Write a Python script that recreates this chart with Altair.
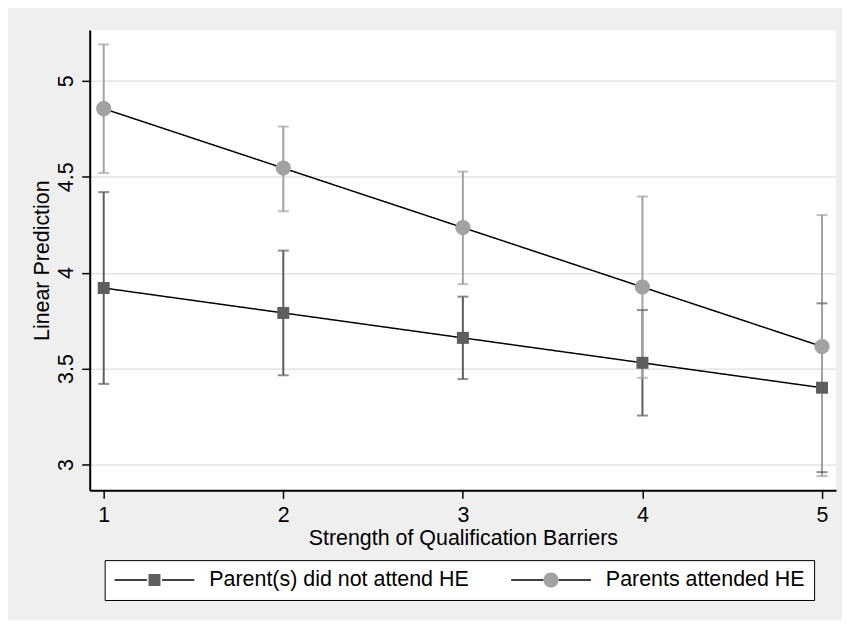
import altair as alt
import pandas as pd

barriers = [1, 2, 3, 4, 5]
groups = ["Parent(s) did not attend HE", "Parents attended HE"]

pred_not = [3.92, 3.79, 3.66, 3.53, 3.40]
lo_not = [3.42, 3.465, 3.445, 3.255, 2.96]
hi_not = [4.42, 4.115, 3.875, 3.805, 3.84]

pred_att = [4.855, 4.545, 4.235, 3.925, 3.615]
lo_att = [4.52, 4.32, 3.94, 3.452, 2.94]
hi_att = [5.19, 4.762, 4.527, 4.397, 4.30]

y_ticks = [3, 3.5, 4, 4.5, 5]
x_ticks = [1, 2, 3, 4, 5]

rows = []
for g, p, lo, hi in [(groups[0], pred_not, lo_not, hi_not), (groups[1], pred_att, lo_att, hi_att)]:
    for i, x in enumerate(barriers):
        rows.append({"x": x, "group": g, "series": g, "bar": g,
                     "pred": p[i], "lo": lo[i], "hi": hi[i]})
df = pd.DataFrame(rows)

FONT = "Liberation Sans"
FS = 21.5
DARK = "#5e5e5e"
LIGHT = "#a2a2a2"

sq_path = "M-0.15,-0.15H0.15V0.15H-0.15Z"
circ_path = "M0.19,0A0.19,0.19,0,1,1,-0.19,0A0.19,0.19,0,1,1,0.19,0Z"
gap_line = "M-1,0H-0.19M0.19,0H1"

x_scale = alt.Scale(domain=[0.922, 5.078], nice=False, zero=False)
y_scale = alt.Scale(domain=[2.865, 5.265], nice=False, zero=False)

x_axis = alt.Axis(values=x_ticks, format="d", tickSize=8, tickWidth=1.5, tickColor="black",
                  domainColor="black", domainWidth=2, grid=False, labelAngle=0,
                  labelFont=FONT, labelFontSize=FS, labelColor="black", labelPadding=6,
                  title="Strength of Qualification Barriers", titleFont=FONT, titleFontSize=FS,
                  titleFontWeight="normal", titleColor="black", titleBaseline="alphabetic",
                  titleY=54)
y_axis = alt.Axis(values=y_ticks, format="~g", tickSize=8, tickWidth=1.5, tickColor="black",
                  domainColor="black", domainWidth=2, grid=True, gridColor="#e4e4e4", gridWidth=1.5,
                  labelAngle=270, labelAlign="center", labelBaseline="alphabetic", labelPadding=9,
                  labelFont=FONT, labelFontSize=FS, labelColor="black",
                  title="Linear Prediction", titleFont=FONT, titleFontSize=FS,
                  titleFontWeight="normal", titleColor="black", titleAngle=270,
                  titleAlign="center", titleBaseline="alphabetic", titleX=-41, titleY=231)

X = alt.X("x:Q", scale=x_scale, axis=x_axis)
Xn = alt.X("x:Q", scale=x_scale)

common = dict(title=None, orient="none", legendX=15, legendY=532, direction="horizontal",
              labelFont=FONT, labelFontSize=FS, labelColor="black", labelOffset=14, labelLimit=0,
              symbolSize=6400, symbolStrokeWidth=1.5, columnPadding=41, padding=9, clipHeight=22)

# bottom legend: box + markers (labels hidden, used only for layout)
marker_legend = alt.Legend(symbolStrokeColor="transparent", labelOpacity=0,
                           labelExpr="datum.label == 'Parents attended HE' ? datum.label + '\u00a0\u00a0\u00a0' : datum.label",
                           strokeColor="black", fillColor="white", zindex=1, **common)
# top legend: connecting lines + visible labels
line_legend = alt.Legend(symbolStrokeColor="black", symbolType=gap_line, zindex=2, **common)

base = alt.Chart(df)

line = base.mark_line(color="black", strokeWidth=1.5).encode(
    x=X,
    y=alt.Y("pred:Q", scale=y_scale, axis=y_axis),
    strokeDash=alt.StrokeDash("series:N", scale=alt.Scale(range=[[1, 0], [1, 0]]),
                              legend=line_legend),
)

bars = base.mark_rule(strokeWidth=2).encode(
    x=Xn, y=alt.Y("lo:Q", scale=y_scale), y2="hi:Q",
    stroke=alt.Stroke("bar:N", scale=alt.Scale(range=[DARK, LIGHT]), legend=None))
cap_lo = base.mark_tick(thickness=2, size=11, orient="horizontal").encode(
    x=Xn, y=alt.Y("lo:Q", scale=y_scale),
    color=alt.Color("bar:N", scale=alt.Scale(range=[DARK, LIGHT]), legend=None))
cap_hi = base.mark_tick(thickness=2, size=11, orient="horizontal").encode(
    x=Xn, y=alt.Y("hi:Q", scale=y_scale),
    color=alt.Color("bar:N", scale=alt.Scale(range=[DARK, LIGHT]), legend=None))

points = base.mark_point(filled=True, size=6400, opacity=1, strokeWidth=0).encode(
    x=Xn,
    y=alt.Y("pred:Q", scale=y_scale),
    fill=alt.Fill("group:N", scale=alt.Scale(domain=groups, range=[DARK, LIGHT]), legend=marker_legend),
    shape=alt.Shape("group:N", scale=alt.Scale(domain=groups, range=[sq_path, circ_path]), legend=marker_legend),
)

chart = alt.layer(line, bars, cap_lo, cap_hi, points).properties(
    width=749, height=462,
    autosize=alt.AutoSizeParams(type="none"),
    padding={"left": 82, "top": 21, "right": 6, "bottom": 129},
    background="#efefef",
).configure_view(strokeWidth=0, fill="white")

chart.save("out.html", embed_options={"renderer": "svg", "actions": False})
